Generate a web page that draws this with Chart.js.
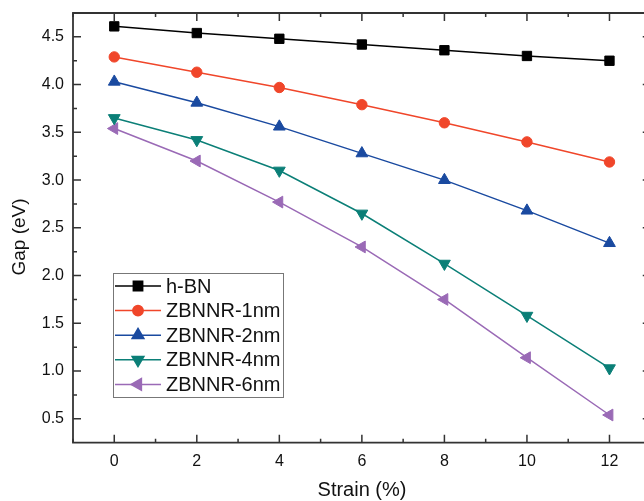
<!DOCTYPE html>
<html>
<head>
<meta charset="utf-8">
<script src="https://cdn.jsdelivr.net/npm/chart.js@4/dist/chart.umd.min.js"></script>
<style>
html,body{margin:0;padding:0;background:#fff;overflow:hidden;}
#wrap{width:660px;height:501px;}
</style>
</head>
<body>
<div id="wrap"><canvas id="c" width="660" height="501"></canvas></div>
<script>
const strain = [0, 2, 4, 6, 8, 10, 12];
const hBN = [4.61, 4.54, 4.48, 4.42, 4.36, 4.30, 4.25];
const zb1 = [4.29, 4.13, 3.97, 3.79, 3.60, 3.40, 3.19];
const zb2 = [4.03, 3.81, 3.56, 3.28, 3.00, 2.68, 2.34];
const zb4 = [3.65, 3.42, 3.10, 2.65, 2.125, 1.58, 1.03];
const zb6 = [3.54, 3.20, 2.77, 2.30, 1.75, 1.14, 0.54];
const xTicks = [0, 2, 4, 6, 8, 10, 12];
const yTicks = [0.5, 1.0, 1.5, 2.0, 2.5, 3.0, 3.5, 4.0, 4.5];
const seriesNames = ['h-BN', 'ZBNNR-1nm', 'ZBNNR-2nm', 'ZBNNR-4nm', 'ZBNNR-6nm'];
const xTitle = 'Strain (%)';
const yTitle = 'Gap (eV)';

const FONT = '"Liberation Sans", Arial, sans-serif';
const styles = [
  {c:'#000000', s:'rect', r:6.6, rot:0},
  {c:'#f0462a', s:'circle', r:5.2, rot:0},
  {c:'#1a4aa0', s:'triangle', r:6.8, rot:0},
  {c:'#0b7f77', s:'triangle', r:6.8, rot:180},
  {c:'#9a6ab6', s:'triangle', r:6.8, rot:270}
];
const allSeries = [hBN, zb1, zb2, zb4, zb6];

const datasets = allSeries.map((vals, i) => ({
  label: seriesNames[i],
  data: strain.map((x, j) => ({x: x, y: vals[j]})),
  borderColor: styles[i].c,
  backgroundColor: styles[i].c,
  borderWidth: 1.5,
  pointStyle: styles[i].s,
  pointRadius: styles[i].r,
  pointRotation: styles[i].rot,
  pointBorderWidth: 1,
  pointBackgroundColor: styles[i].c,
  pointBorderColor: styles[i].c,
  tension: 0,
  fill: false
}));

const framePlugin = {
  id: 'frame',
  afterDraw(chart) {
    const ctx = chart.ctx;
    const a = chart.chartArea;
    const xs = chart.scales.x, ys = chart.scales.y;
    ctx.save();
    ctx.strokeStyle = '#333';
    ctx.lineWidth = 1.8;
    ctx.beginPath();
    ctx.rect(a.left, a.top, a.right - a.left, a.bottom - a.top);
    ctx.stroke();
    ctx.lineWidth = 1.5;
    ctx.beginPath();
    for (let v = Math.ceil(xs.min); v <= xs.max; v += 1) {
      const px = xs.getPixelForValue(v);
      const len = (v % 2 === 0) ? 8 : 4;
      ctx.moveTo(px, a.bottom); ctx.lineTo(px, a.bottom - len);
      ctx.moveTo(px, a.top); ctx.lineTo(px, a.top + len);
    }
    for (let k = 1; k * 0.25 < ys.max; k++) {
      const v = k * 0.25;
      if (v <= ys.min) continue;
      const py = ys.getPixelForValue(v);
      const len = (k % 2 === 0) ? 8 : 4;
      ctx.moveTo(a.left, py); ctx.lineTo(a.left + len, py);
      ctx.moveTo(a.right, py); ctx.lineTo(a.right - len, py);
    }
    ctx.stroke();

    ctx.fillStyle = '#111';
    ctx.textAlign = 'center';
    ctx.textBaseline = 'middle';
    ctx.font = '20px ' + FONT;
    ctx.fillText(xTitle, 362, 490);
    ctx.font = '19px ' + FONT;
    ctx.translate(20, 237);
    ctx.rotate(-Math.PI / 2);
    ctx.fillText(yTitle, 0, 0);
    ctx.restore();

    ctx.save();
    const bx = 113, by = 273, bw = 170, bh = 124;
    ctx.fillStyle = '#fff';
    ctx.fillRect(bx, by, bw, bh);
    ctx.strokeStyle = '#777';
    ctx.lineWidth = 1;
    ctx.strokeRect(bx + 0.5, by + 0.5, bw, bh);
    chart.data.datasets.forEach((ds, i) => {
      const cy = 286 + i * 24.6;
      ctx.strokeStyle = ds.borderColor;
      ctx.lineWidth = 1.5;
      ctx.beginPath();
      ctx.moveTo(115, cy); ctx.lineTo(161, cy);
      ctx.stroke();
      ctx.fillStyle = ds.backgroundColor;
      Chart.helpers.drawPoint(ctx, {pointStyle: ds.pointStyle, rotation: ds.pointRotation, radius: ds.pointRadius, borderWidth: 1}, 138, cy);
      ctx.fillStyle = '#111';
      ctx.font = '20px ' + FONT;
      ctx.textAlign = 'left';
      ctx.textBaseline = 'middle';
      ctx.fillText(ds.label, 166, cy + 1);
    });
    ctx.restore();
  }
};

new Chart(document.getElementById('c'), {
  type: 'line',
  data: {datasets: datasets},
  options: {
    responsive: false,
    animation: false,
    layout: {padding: {top: 13, right: 9.25, left: 0, bottom: 0}},
    plugins: {legend: {display: false}, tooltip: {enabled: false}},
    scales: {
      x: {
        type: 'linear', min: -1, max: 13,
        afterBuildTicks: (s) => { s.ticks = xTicks.map(v => ({value: v})); },
        afterFit: (s) => { s.height = 58.3; s.paddingLeft = 0; s.paddingRight = 0; },
        grid: {display: false, drawTicks: false},
        border: {display: false},
        ticks: {font: {family: FONT, size: 16}, color: '#111', padding: 9, maxRotation: 0,
          callback: (v) => String(v)}
      },
      y: {
        type: 'linear', min: 0.25, max: 4.75,
        afterBuildTicks: (s) => { s.ticks = yTicks.map(v => ({value: v})); },
        afterFit: (s) => { s.width = 73; s.paddingTop = 0; s.paddingBottom = 0; },
        grid: {display: false, drawTicks: false},
        border: {display: false},
        ticks: {font: {family: FONT, size: 16}, color: '#111', padding: 9,
          callback: (v) => Number(v).toFixed(1)}
      }
    }
  },
  plugins: [framePlugin]
});
</script>
</body>
</html>
